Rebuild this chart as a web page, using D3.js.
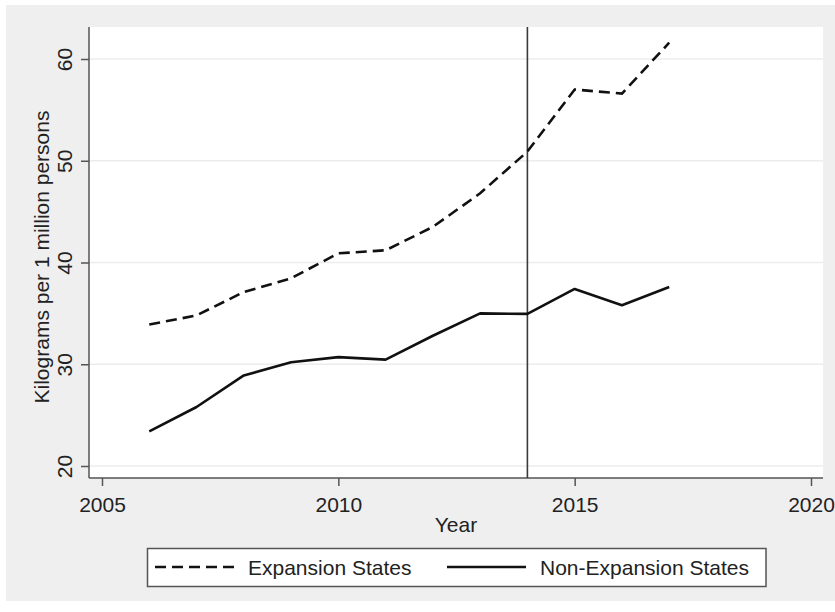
<!DOCTYPE html>
<html>
<head>
<meta charset="utf-8">
<script src="https://cdn.jsdelivr.net/npm/d3@7"></script>
<style>
  html, body { margin: 0; padding: 0; background: #ffffff; }
  svg { display: block; }
  text { font-family: "Liberation Sans", Arial, Helvetica, sans-serif; fill: #222; }
</style>
</head>
<body>
<svg id="chart" width="835" height="612"></svg>
<script>
// Years observed and mean kilograms per 1 million persons by group
const years = [2006, 2007, 2008, 2009, 2010, 2011, 2012, 2013, 2014, 2015, 2016, 2017];
const expansionStates = [33.9, 34.8, 37.1, 38.45, 40.9, 41.2, 43.5, 46.8, 50.9, 57.0, 56.6, 61.6];
const nonExpansionStates = [23.4, 25.8, 28.9, 30.2, 30.7, 30.45, 32.8, 35.0, 34.95, 37.4, 35.8, 37.6];

// Axis ticks and reference year
const xTicks = [2005, 2010, 2015, 2020];
const yTicks = [20, 30, 40, 50, 60];
const policyYear = 2014;

const seriesNames = ["Expansion States", "Non-Expansion States"];
const xTitle = "Year";
const yTitle = "Kilograms per 1 million persons";

const svg = d3.select("#chart");
const W = 835, H = 612;

// Frame of the plot region
const plot = { left: 89, right: 823, top: 27, bottom: 478 };

const x = d3.scaleLinear().domain([2005, 2020]).range([102, 811]);
const y = d3.scaleLinear().domain([20, 60]).range([466, 59]);

// Graph background
svg.append("rect")
  .attr("x", 6).attr("y", 5).attr("width", W - 6).attr("height", 596)
  .attr("fill", "#efefef");

// Plot background
svg.append("rect")
  .attr("x", plot.left).attr("y", plot.top)
  .attr("width", plot.right - plot.left).attr("height", plot.bottom - plot.top)
  .attr("fill", "#ffffff");

// Horizontal grid lines
svg.append("g").selectAll("line").data(yTicks).join("line")
  .attr("x1", plot.left).attr("x2", plot.right)
  .attr("y1", d => y(d)).attr("y2", d => y(d))
  .attr("stroke", "#ececec").attr("stroke-width", 1.5);

// Y axis
const gy = svg.append("g").attr("transform", `translate(${plot.left},0)`)
  .call(d3.axisLeft(y).tickValues(yTicks).tickSize(8).tickSizeOuter(0).tickFormat(d3.format("d")));
gy.select(".domain").remove();
gy.selectAll(".tick line").attr("stroke", "#555").attr("stroke-width", 1.5);
gy.selectAll(".tick text")
  .attr("font-size", 21)
  .attr("fill", "#222")
  .attr("text-anchor", "middle")
  .attr("x", 0).attr("dy", null)
  .attr("y", -17)
  .attr("transform", "rotate(-90)");
gy.attr("font-family", null).attr("font-size", null);

// X axis
const gx = svg.append("g").attr("transform", `translate(0,${plot.bottom})`)
  .call(d3.axisBottom(x).tickValues(xTicks).tickSize(8).tickSizeOuter(0).tickFormat(d3.format("d")));
gx.select(".domain").remove();
gx.selectAll(".tick line").attr("stroke", "#555").attr("stroke-width", 1.5);
gx.selectAll(".tick text")
  .attr("font-size", 21)
  .attr("fill", "#222")
  .attr("dy", null)
  .attr("y", 33.5);
gx.attr("font-family", null).attr("font-size", null);

// Axis lines spanning the plot region
svg.append("line")
  .attr("x1", plot.left).attr("x2", plot.left)
  .attr("y1", plot.top).attr("y2", plot.bottom)
  .attr("stroke", "#555").attr("stroke-width", 1.5);
svg.append("line")
  .attr("x1", plot.left).attr("x2", plot.right)
  .attr("y1", plot.bottom).attr("y2", plot.bottom)
  .attr("stroke", "#555").attr("stroke-width", 1.5);

// Axis titles
svg.append("text")
  .attr("x", (plot.left + plot.right) / 2).attr("y", 531.5)
  .attr("text-anchor", "middle").attr("font-size", 21)
  .text(xTitle);
svg.append("text")
  .attr("transform", "translate(49,257) rotate(-90)")
  .attr("text-anchor", "middle").attr("font-size", 21)
  .text(yTitle);

// Vertical reference line at the policy year
svg.append("line")
  .attr("x1", x(policyYear)).attr("x2", x(policyYear))
  .attr("y1", plot.top).attr("y2", plot.bottom)
  .attr("stroke", "#3a3a3a").attr("stroke-width", 1.6);

// Series lines
const line = d3.line().x(d => x(d[0])).y(d => y(d[1]));
const dash = "11,6";

svg.append("path")
  .datum(years.map((yr, i) => [yr, expansionStates[i]]))
  .attr("d", line)
  .attr("fill", "none").attr("stroke", "#111").attr("stroke-width", 2.6)
  .attr("stroke-dasharray", dash);

svg.append("path")
  .datum(years.map((yr, i) => [yr, nonExpansionStates[i]]))
  .attr("d", line)
  .attr("fill", "none").attr("stroke", "#111").attr("stroke-width", 2.6)
  .attr("stroke-linejoin", "round");

// Legend
const legend = svg.append("g");
legend.append("rect")
  .attr("x", 147.5).attr("y", 548.5).attr("width", 618.5).attr("height", 38)
  .attr("fill", "#ffffff").attr("stroke", "#555").attr("stroke-width", 1.5);

const legendItems = [
  { name: seriesNames[0], x0: 155, x1: 235, tx: 248, dashed: true },
  { name: seriesNames[1], x0: 447, x1: 526, tx: 540, dashed: false }
];
legendItems.forEach(it => {
  legend.append("line")
    .attr("x1", it.x0).attr("x2", it.x1).attr("y1", 567).attr("y2", 567)
    .attr("stroke", "#111").attr("stroke-width", 2.6)
    .attr("stroke-dasharray", it.dashed ? dash : null);
  legend.append("text")
    .attr("x", it.tx).attr("y", 575).attr("font-size", 21)
    .text(it.name);
});
</script>
</body>
</html>
